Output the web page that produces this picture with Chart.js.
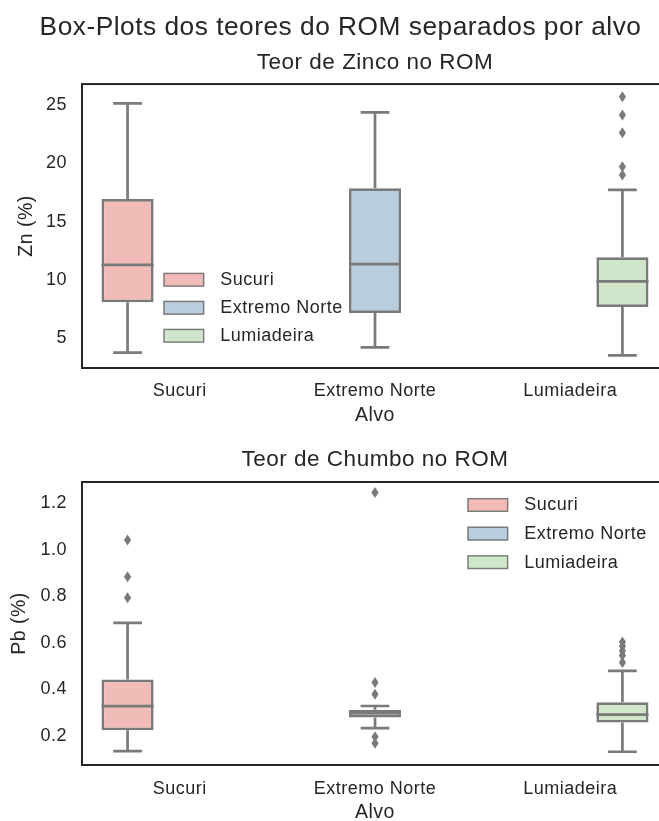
<!DOCTYPE html>
<html>
<head>
<meta charset="utf-8">
<title>Box-Plots dos teores do ROM separados por alvo</title>
<script src="https://cdn.jsdelivr.net/npm/chart.js@4/dist/chart.umd.min.js"></script>
<style>
  html, body { margin: 0; padding: 0; background: #fff; overflow: hidden; }
  .panel { position: absolute; left: 0; }
  canvas { display: block; }
</style>
</head>
<body>
<div class="panel" style="top:0"><canvas id="zn" width="680" height="440" style="width:680px;height:440px"></canvas></div>
<div class="panel" style="top:440px"><canvas id="pb" width="680" height="400" style="width:680px;height:400px"></canvas></div>
<script>
// Targets (alvos) and their box colours
const categories = ['Sucuri', 'Extremo Norte', 'Lumiadeira'];
const fills = ['#f1bcb8', '#b9cddd', '#cfe6ca'];

// Zinc grade, Zn (%)
const znLow = [3.77, 4.23, 3.55];
const znQ1 = [8.1, 7.18, 7.69];
const znMedian = [11.3, 11.37, 9.88];
const znQ3 = [16.95, 17.87, 11.95];
const znHigh = [25.15, 24.37, 17.73];
const znOutliers = [[], [], [19.0, 19.72, 22.63, 24.14, 25.71]];
const znTicks = [5, 10, 15, 20, 25];

// Lead grade, Pb (%)
const pbLow = [0.134, 0.233, 0.131];
const pbQ1 = [0.224, 0.278, 0.257];
const pbMedian = [0.327, 0.297, 0.291];
const pbQ3 = [0.442, 0.312, 0.344];
const pbHigh = [0.686, 0.328, 0.479];
const pbOutliers = [[0.794, 0.884, 1.042], [0.168, 0.196, 0.378, 0.429, 1.247], [0.515, 0.545, 0.565, 0.585, 0.603]];
const pbTicks = [0.2, 0.4, 0.6, 0.8, 1.0, 1.2];

const ink = '#262626';
const edge = '#7a7a7a';
const FONT = "'Liberation Sans', Arial, Helvetica, sans-serif";

// slightly open letter spacing for all canvas text
const spacingPlugin = {
  id: 'spacing',
  beforeDraw(chart) { chart.ctx.letterSpacing = '0.5px'; }
};

// whiskers, caps, medians and fliers drawn on top of the floating-bar boxes
const boxStatsPlugin = {
  id: 'boxStats',
  afterDatasetsDraw(chart, args, opts) {
    const ctx = chart.ctx;
    const ys = chart.scales.y;
    ctx.save();
    ctx.strokeStyle = edge;
    ctx.fillStyle = edge;
    ctx.lineWidth = 2.7;
    chart.data.datasets.forEach((ds, d) => {
      const meta = chart.getDatasetMeta(d);
      meta.data.forEach((bar, i) => {
        if (ds.data[i] == null) return;
        const { x, width } = bar.getProps(['x', 'width'], true);
        const yLow = ys.getPixelForValue(opts.low[i]);
        const yQ1 = ys.getPixelForValue(opts.q1[i]);
        const yQ3 = ys.getPixelForValue(opts.q3[i]);
        const yHigh = ys.getPixelForValue(opts.high[i]);
        const yMed = ys.getPixelForValue(opts.median[i]);
        const cap = width / 4;
        // whiskers
        ctx.lineCap = 'butt';
        ctx.beginPath();
        ctx.moveTo(x, yQ1); ctx.lineTo(x, yLow);
        ctx.moveTo(x, yQ3); ctx.lineTo(x, yHigh);
        ctx.stroke();
        // caps
        ctx.lineCap = 'square';
        ctx.beginPath();
        ctx.moveTo(x - cap, yLow); ctx.lineTo(x + cap, yLow);
        ctx.moveTo(x - cap, yHigh); ctx.lineTo(x + cap, yHigh);
        ctx.stroke();
        // median
        ctx.lineCap = 'butt';
        ctx.beginPath();
        ctx.moveTo(x - width / 2, yMed); ctx.lineTo(x + width / 2, yMed);
        ctx.stroke();
        // fliers as thin diamonds
        opts.outliers[i].forEach(v => {
          const py = ys.getPixelForValue(v);
          ctx.beginPath();
          ctx.moveTo(x, py - 5.5);
          ctx.lineTo(x + 3.6, py);
          ctx.lineTo(x, py + 5.5);
          ctx.lineTo(x - 3.6, py);
          ctx.closePath();
          ctx.fill();
        });
      });
    });
    ctx.restore();
  }
};

// dark frame around the plotting area
const framePlugin = {
  id: 'frame',
  afterDraw(chart) {
    const { ctx, chartArea: a } = chart;
    ctx.save();
    ctx.strokeStyle = ink;
    ctx.lineWidth = 2;
    ctx.strokeRect(a.left, a.top, a.right - a.left, a.bottom - a.top);
    ctx.restore();
  }
};

// legend with box-coloured patches
const legendPlugin = {
  id: 'boxLegend',
  afterDraw(chart, args, opts) {
    const { ctx, chartArea: a } = chart;
    ctx.save();
    ctx.font = '18px ' + FONT;
    ctx.textBaseline = 'middle';
    ctx.textAlign = 'left';
    chart.data.datasets.forEach((ds, k) => {
      const px = a.left + opts.left;
      const cy = a.top + opts.top + k * opts.gap;
      ctx.fillStyle = ds.backgroundColor;
      ctx.fillRect(px, cy - 7, 41, 14);
      ctx.strokeStyle = edge;
      ctx.lineWidth = 1.4;
      ctx.strokeRect(px + 0.7, cy - 6.3, 39.6, 12.6);
      ctx.fillStyle = ink;
      ctx.fillText(ds.label, px + 57, cy + 0.5);
    });
    ctx.restore();
  }
};

function boxChart(id, o) {
  return new Chart(document.getElementById(id), {
    type: 'bar',
    data: {
      labels: categories,
      datasets: categories.map((name, h) => ({
        label: name,
        data: categories.map((c, i) => (i === h ? [o.q1[i], o.q3[i]] : null)),
        backgroundColor: fills[h],
        borderColor: edge,
        borderWidth: 2.7,
        borderSkipped: false,
        categoryPercentage: 0.8,
        barPercentage: 1.0
      }))
    },
    options: {
      responsive: false,
      animation: false,
      devicePixelRatio: 1,
      layout: { padding: { left: o.padLeft, right: 12, top: 0, bottom: 0 } },
      plugins: {
        legend: { display: false },
        tooltip: { enabled: false },
        title: o.title,
        subtitle: o.subtitle || { display: false },
        boxStats: { low: o.low, q1: o.q1, median: o.median, q3: o.q3, high: o.high, outliers: o.outliers },
        boxLegend: o.legend
      },
      scales: {
        x: {
          type: 'category',
          offset: true,
          grid: { display: false, drawTicks: false },
          border: { display: false },
          ticks: { color: ink, font: { family: FONT, size: 18 }, padding: o.xTickPad, maxRotation: 0, autoSkip: false },
          title: { display: true, text: 'Alvo', color: ink, font: { family: FONT, size: 19.5 }, padding: { top: 0, bottom: o.xTitlePad } },
          afterFit: s => { s.height = o.xHeight; }
        },
        y: {
          type: 'linear',
          min: o.min,
          max: o.max,
          grid: { display: false, drawTicks: false },
          border: { display: false },
          ticks: { color: ink, font: { family: FONT, size: 18 }, padding: 15, callback: o.fmt },
          afterBuildTicks: s => { s.ticks = o.ticks.map(v => ({ value: v })); },
          title: { display: true, text: o.yTitle, color: ink, font: { family: FONT, size: 19.5 }, padding: { top: o.yTitlePad, bottom: 0 } },
          afterFit: s => { s.width = 82 - o.padLeft; }
        }
      }
    },
    plugins: [spacingPlugin, boxStatsPlugin, framePlugin, legendPlugin]
  });
}

boxChart('zn', {
  low: znLow, q1: znQ1, median: znMedian, q3: znQ3, high: znHigh, outliers: znOutliers,
  ticks: znTicks, min: 2.46, max: 26.8, fmt: v => String(v),
  padLeft: 13,
  yTitle: 'Zn (%)', yTitlePad: 1.8,
  xHeight: 72, xTickPad: 12.5, xTitlePad: 12.3,
  title: {
    display: true, text: 'Box-Plots dos teores do ROM separados por alvo', color: ink,
    font: { family: FONT, size: 26.3, weight: 'normal' }, padding: { top: 11.7, bottom: 0 }
  },
  subtitle: {
    display: true, text: 'Teor de Zinco no ROM', color: ink, fullSize: false,
    font: { family: FONT, size: 22.5, weight: 'normal' }, padding: { top: 5.8, bottom: 8.0 }
  },
  legend: { left: 81.3, top: 195.7, gap: 28 }
});

boxChart('pb', {
  low: pbLow, q1: pbQ1, median: pbMedian, q3: pbQ3, high: pbHigh, outliers: pbOutliers,
  ticks: pbTicks, min: 0.074, max: 1.292, fmt: v => Number(v).toFixed(1),
  padLeft: 0,
  yTitle: 'Pb (%)', yTitlePad: 8.3,
  xHeight: 75, xTickPad: 13.7, xTitlePad: 15.5,
  title: {
    display: true, text: 'Teor de Chumbo no ROM', color: ink, fullSize: false,
    font: { family: FONT, size: 22.5, weight: 'normal' }, padding: { top: 6.5, bottom: 8.5 }
  },
  legend: { left: 385.3, top: 23, gap: 28.6 }
});
</script>
</body>
</html>
